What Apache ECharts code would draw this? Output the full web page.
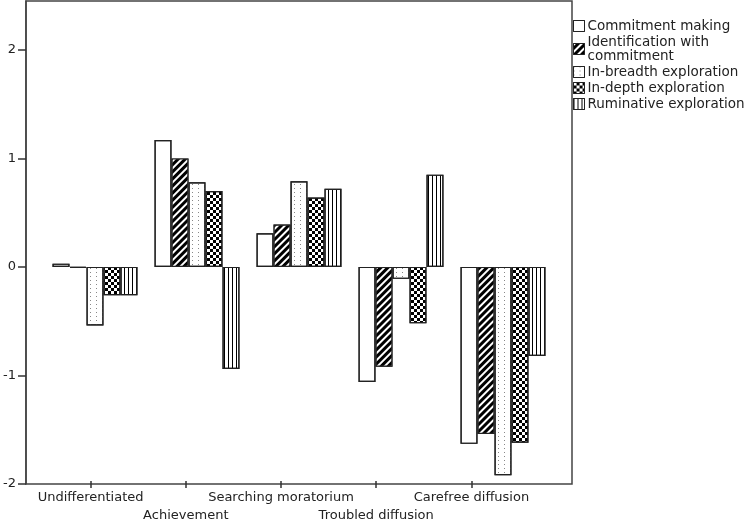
<!DOCTYPE html>
<html>
<head>
<meta charset="utf-8">
<script src="https://cdn.jsdelivr.net/npm/echarts@6/dist/echarts.min.js"></script>
<style>html,body{margin:0;padding:0;background:#fff;}#c{width:750px;height:525px;}</style>
</head>
<body>
<div id="c"></div>
<script>
var categories = ['Undifferentiated', 'Achievement', 'Searching moratorium', 'Troubled diffusion', 'Carefree diffusion'];
var seriesNames = ['Commitment making', 'Identification with\ncommitment', 'In-breadth exploration', 'In-depth exploration', 'Ruminative exploration'];
var commitmentMaking = [0.03, 1.17, 0.31, -1.06, -1.63];
var identification = [-0.01, 1.00, 0.39, -0.92, -1.54];
var inBreadth = [-0.54, 0.78, 0.79, -0.11, -1.92];
var inDepth = [-0.26, 0.70, 0.64, -0.52, -1.62];
var ruminative = [-0.26, -0.94, 0.72, 0.85, -0.82];
var yTicks = [-2, -1, 0, 1, 2];

var values = [commitmentMaking, identification, inBreadth, inDepth, ruminative];
var styles = [
  { color: '#fff', decal: { symbol: 'none' } },
  { color: '#000', decal: { symbol: 'rect', symbolSize: 1, color: '#fff', dashArrayX: [1, 0], dashArrayY: [1.8, 2.6], rotation: -Math.PI / 4 } },
  { color: '#fff', decal: { symbol: 'rect', symbolSize: 1, color: '#888', dashArrayX: [1, 5], dashArrayY: [1, 2.5] } },
  { color: '#fff', decal: { symbol: 'rect', symbolSize: 1, color: '#000', dashArrayX: [[3, 3], [0, 3, 3, 0]], dashArrayY: [3, 0] } },
  { color: '#fff', decal: { symbol: 'rect', symbolSize: 1, color: '#000', dashArrayX: [1, 3], dashArrayY: [10, 0] } }
];

var series = seriesNames.map(function (n, i) {
  return {
    name: n,
    type: 'bar',
    xAxisIndex: 1,
    yAxisIndex: 1,
    data: values[i],
    barGap: '0%',
    barCategoryGap: '16.7%',
    itemStyle: { color: styles[i].color, borderColor: '#222', borderWidth: 1.2, decal: styles[i].decal },
    emphasis: { disabled: true },
    animation: false
  };
});

var chart = echarts.init(document.getElementById('c'), null, { renderer: 'canvas' });
chart.setOption({
  animation: false,
  aria: { enabled: false, decal: { show: true } },
  textStyle: { fontFamily: 'DejaVu Sans' },
  legend: {
    orient: 'vertical',
    left: 568,
    top: 14,
    itemWidth: 11,
    itemHeight: 11,
    itemGap: 2,
    icon: 'rect',
    selectedMode: false,
    itemStyle: { borderColor: '#222', borderWidth: 1 },
    textStyle: { fontSize: 13.5, color: '#222', lineHeight: 14, padding: [0, 0, 0, -2] },
    data: seriesNames
  },
  grid: [
    { left: 25, right: 178, top: 1, bottom: 41, show: true, borderColor: '#444', borderWidth: 1.5, backgroundColor: 'transparent' },
    { left: 44, right: 196, top: 1, bottom: 41 },
    { left: 43, right: 231, top: 1, bottom: 41 }
  ],
  xAxis: [
    { gridIndex: 0, type: 'value', show: false, min: 0, max: 1 },
    { gridIndex: 1, type: 'category', data: categories, show: false },
    {
      gridIndex: 2, type: 'category', data: categories,
      axisLine: { show: false },
      axisTick: { show: true, alignWithLabel: true, length: 7, lineStyle: { color: '#333', width: 1.5 } },
      axisLabel: {
        interval: 0, margin: 8, fontSize: 13, color: '#222', lineHeight: 18,
        formatter: function (v, idx) { return idx % 2 ? '\n' + v : v; }
      },
      splitLine: { show: false }
    }
  ],
  yAxis: [
    {
      gridIndex: 0, type: 'value', min: -2, max: 2.45,
      axisLine: { show: true, lineStyle: { color: '#444', width: 1.5 } },
      axisTick: { show: true, length: 8, customValues: yTicks, lineStyle: { color: '#333', width: 1.5 } },
      axisLabel: { customValues: yTicks, fontSize: 13, color: '#222', margin: 10 },
      splitLine: { show: false }
    },
    { gridIndex: 1, type: 'value', min: -2, max: 2.45, show: false },
    { gridIndex: 2, type: 'value', min: 0, max: 1, show: false }
  ],
  series: series
});
</script>
</body>
</html>
